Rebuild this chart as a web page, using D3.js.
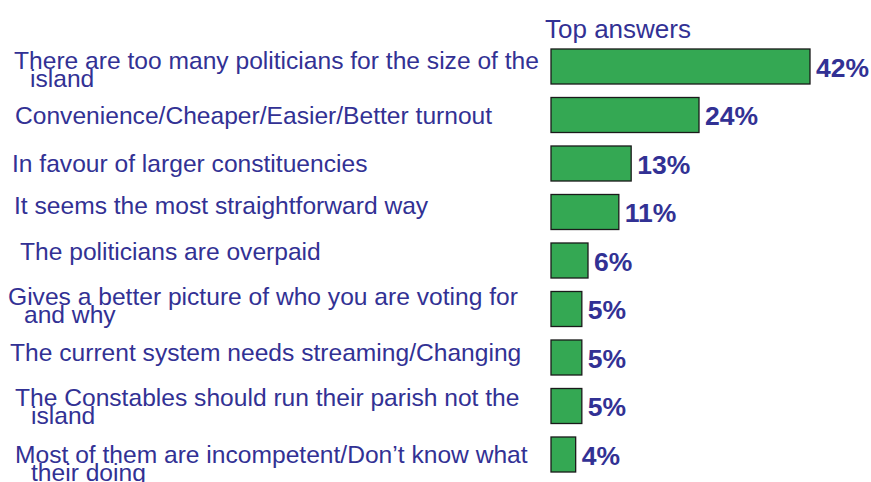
<!DOCTYPE html>
<html>
<head>
<meta charset="utf-8">
<script src="https://cdn.jsdelivr.net/npm/d3@7"></script>
<style>
  html, body { margin: 0; padding: 0; background: #ffffff; }
  svg { display: block; }
  text { font-family: "Liberation Sans", Arial, Helvetica, sans-serif; }
</style>
</head>
<body>
<div id="chart"></div>
<script>
// ---- data ----
const categories = [
  "There are too many politicians for the size of the\nisland",
  "Convenience/Cheaper/Easier/Better turnout",
  "In favour of larger constituencies",
  "It seems the most straightforward way",
  "The politicians are overpaid",
  "Gives a better picture of who you are voting for\nand why",
  "The current system needs streaming/Changing",
  "The Constables should run their parish not the\nisland",
  "Most of them are incompetent/Don\u2019t know what\ntheir doing"
];
const values = [42, 24, 13, 11, 6, 5, 5, 5, 4];
const title = "Top answers";

// ---- layout (label placement nudges, mimicking hand-placed text boxes) ----
const labelDx = [14, 15, 12, 14, 20, 8, 10, 15, 15];
const labelDy = [2, 8.5, 8.5, 2, -1, -4, 3.7, 0, 8.5];

const W = 871, H = 482;
const textColor = "#323194";
const barColor = "#34a853";

const svg = d3.select("#chart").append("svg")
  .attr("width", W).attr("height", H);

const y = d3.scaleBand()
  .domain(d3.range(categories.length))
  .range([42.25, 478.75])
  .paddingInner(0.278)
  .paddingOuter(0.139);

const x = d3.scaleLinear()
  .domain([0, d3.max(values)])
  .range([551, 810]);

// title
svg.append("text")
  .attr("x", 545).attr("y", 38)
  .attr("fill", textColor)
  .attr("font-size", 26)
  .text(title);

// bars
svg.selectAll("rect.bar")
  .data(values)
  .join("rect")
  .attr("class", "bar")
  .attr("x", x(0))
  .attr("y", (d, i) => y(i))
  .attr("width", d => x(d) - x(0))
  .attr("height", y.bandwidth())
  .attr("fill", barColor)
  .attr("stroke", "#1a1a1a")
  .attr("stroke-width", 1.3);

// value labels
svg.selectAll("text.val")
  .data(values)
  .join("text")
  .attr("class", "val")
  .attr("x", d => x(d) + 6)
  .attr("y", (d, i) => y(i) + y.bandwidth() / 2 + 10)
  .attr("fill", textColor)
  .attr("font-size", 26.5)
  .attr("font-weight", "bold")
  .text(d => d + "%");

// category labels
const lab = svg.selectAll("text.cat")
  .data(categories)
  .join("text")
  .attr("class", "cat")
  .attr("fill", textColor)
  .attr("font-size", 24.6)
  .attr("y", (d, i) => y(i) + y.bandwidth() / 2 + labelDy[i]);

lab.each(function(d, i) {
  const lines = d.split("\n");
  const t = d3.select(this);
  lines.forEach((ln, k) => {
    t.append("tspan")
      .attr("x", labelDx[i] + (k > 0 ? 16 : 0))
      .attr("dy", k > 0 ? 18 : 0)
      .text(ln);
  });
});
</script>
</body>
</html>
